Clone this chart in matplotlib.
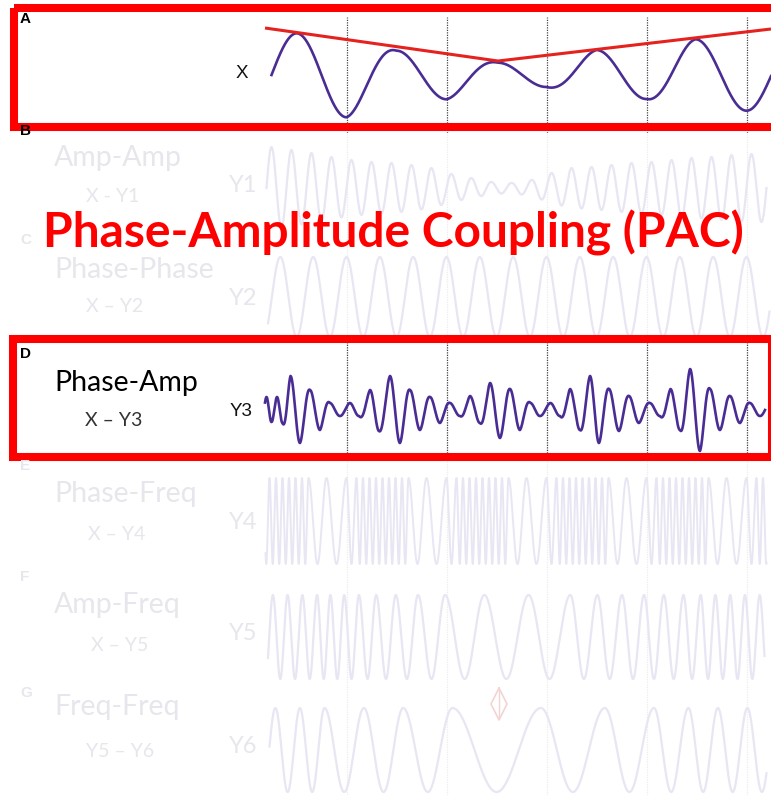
import numpy as np
import matplotlib.pyplot as plt
from matplotlib.patches import Rectangle

# ---- data (time in cycles of X; dotted lines mark the X troughs) ----
# X: slow signal, alternating extrema (signed amplitude)
x_ext_t = [0.0, 0.50, 1.0, 1.50, 2.0, 2.515, 3.0, 3.50, 4.0, 4.49, 5.0, 5.5]
x_ext_v = [-40, 41.7, -42.3, 24.3, -24.3, 12.3, -12, 25, -24, 35.7, -35.7, 36]
x_span = (0.25, 5.245)
# red envelope line over the X peaks
env_t = [0.185, 2.515, 5.245]
env_v = [47, 14, 46]

# Y1: amp-amp, carrier peaks and their heights
y1_pk_t = [0.05, 0.25, 0.45, 0.65, 0.85, 1.05, 1.25, 1.45, 1.65, 1.85, 2.05, 2.25, 2.45,
           2.65, 2.85, 3.05, 3.25, 3.45, 3.65, 3.85, 4.05, 4.25, 4.45, 4.65, 4.85, 5.05, 5.25]
y1_pk_a = [41, 41, 38, 35, 31, 28, 26, 25, 23, 20, 14, 10, 6,
           5, 8, 15, 20, 21, 23, 25, 26, 28, 30, 31, 33, 34, 34]
y1_span = (0.2, 5.2)

# Y2: phase-phase, constant frequency (3 cycles per X cycle)
y2_pk_t = [0.0, 0.338, 0.667, 1.0, 1.333, 1.667, 2.0, 2.333, 2.667, 3.0, 3.333, 3.667,
           4.0, 4.333, 4.667, 5.0, 5.333]
y2_amp = 40
y2_span = (0.215, 5.23)

# Y3: phase-amp, alternating extrema
y3_ext_t = [0.15, 0.20, 0.25, 0.305, 0.36, 0.44, 0.535, 0.635, 0.735, 0.835, 0.935,
            1.035, 1.125, 1.235, 1.325, 1.435, 1.535, 1.635, 1.735, 1.835, 1.935,
            2.035, 2.135, 2.235, 2.335, 2.435, 2.535, 2.635, 2.735, 2.84, 2.935,
            3.04, 3.135, 3.235, 3.335, 3.435, 3.525, 3.625, 3.725, 3.825, 3.925,
            4.035, 4.135, 4.24, 4.335, 4.435, 4.535, 4.635, 4.735, 4.835, 4.935,
            5.035, 5.135, 5.235]
y3_ext_v = [-12, 13, -12, 13, -13, 34, -33, 20, -20, 7, -6,
            7, -6, 20, -21, 34, -33, 20, -20, 13, -13,
            7, -6, 14, -13, 27, -28, 21, -20, 7, -6,
            7, -6, 21, -20, 34, -33, 21, -21, 14, -13,
            7, -6, 21, -20, 41, -41, 21, -20, 14, -13,
            7, -6, 7]
y3_span = (0.185, 5.185)

# Y4: phase-freq, fast cycles with two slow cycles round each X trough
y4_pk_t = [0.0, 0.10, 0.165, 0.23, 0.295, 0.36, 0.425, 0.49, 0.555, 0.62, 0.80,
           1.0, 1.10, 1.165, 1.23, 1.295, 1.36, 1.425, 1.49, 1.555, 1.62, 1.80,
           2.0, 2.10, 2.165, 2.23, 2.295, 2.36, 2.425, 2.49, 2.555, 2.62, 2.80,
           3.0, 3.10, 3.165, 3.23, 3.295, 3.36, 3.425, 3.49, 3.555, 3.62, 3.80,
           4.0, 4.10, 4.165, 4.23, 4.295, 4.36, 4.425, 4.49, 4.555, 4.62, 4.80,
           5.0, 5.10, 5.165, 5.23, 5.295]
y4_amp = 43
y4_span = (0.19, 5.2)

# Y5: amp-freq, peak times
y5_pk_t = [0.117, 0.264, 0.411, 0.559, 0.706, 0.839, 0.977, 1.124, 1.297, 1.493, 1.715,
           1.985, 2.378, 2.821, 3.239, 3.509, 3.755, 3.976, 4.173, 4.370, 4.542,
           4.689, 4.837, 4.984, 5.132, 5.28]
y5_amp = 42
y5_span = (0.215, 5.18)

# Y6: freq-freq, peak times
y6_pk_t = [0.04, 0.289, 0.534, 0.780, 1.174, 1.567, 2.059, 2.944, 3.583, 4.075,
           4.419, 4.714, 5.009, 5.30]
y6_amp = 42
y6_span = (0.23, 5.2)

dotted_t = [1, 2, 3, 4, 5]

# ---- styles ----
W, H = 771, 795
PURPLE = '#4a2d94'
FADE_WAVE = '#e8e6f3'
FADE_TEXT = '#e6e6ec'
FADE_DOT = '#ececec'
RED = '#ff0000'
T0 = -2.465          # time at the left figure edge
T1 = 5.245           # time at the right figure edge

fig = plt.figure(figsize=(W / 100, H / 100), dpi=100)


def band_axes(top, bottom):
    # axes over the pixel band [top, bottom], y in pixel-sized units round the midline
    ax = fig.add_axes([0, (H - bottom) / H, 1, (bottom - top) / H])
    ax.set_xlim(T0, T1)
    mid = (top + bottom) / 2
    ax.set_ylim(-(bottom - mid), (mid - top))
    ax.axis('off')
    ax.patch.set_alpha(0)
    return ax


def draw_wave(ax, tk, vk, step, span, **kw):
    t = np.linspace(span[0], span[1], 4000)
    k = np.arange(len(tk))
    ph = np.interp(t, tk, k * step)
    env = np.interp(t, tk, np.abs(vk))
    sgn = np.sign(vk[0])
    ax.plot(t, sgn * env * np.cos(ph), **kw)


# faded dotted lines below panel A
bg = band_axes(131, 795)
for t in dotted_t:
    bg.axvline(t, color=FADE_DOT, lw=0.9, ls=(0, (1, 1)))

# panel A
axA = band_axes(17, 133)
for t in dotted_t:
    axA.axvline(t, color='#444444', lw=0.9, ls=(0, (1, 1)))
axA.set_ylim(-(133 - 75), 75 - 17)
draw_wave(axA, x_ext_t, x_ext_v, np.pi, x_span, color=PURPLE, lw=1.9)
axA.plot(env_t, env_v, color='#e5221e', lw=2.2, solid_capstyle='butt')

# faded panels
axB = band_axes(138, 238)
draw_wave(axB, y1_pk_t, np.array(y1_pk_a), 2 * np.pi, y1_span, color=FADE_WAVE, lw=1.6)
axC = band_axes(247, 347)
draw_wave(axC, y2_pk_t, np.full(len(y2_pk_t), y2_amp), 2 * np.pi, y2_span, color=FADE_WAVE, lw=1.6)
axE = band_axes(471, 571)
draw_wave(axE, y4_pk_t, np.full(len(y4_pk_t), y4_amp), 2 * np.pi, y4_span, color=FADE_WAVE, lw=1.4)
axF = band_axes(587, 687)
draw_wave(axF, y5_pk_t, np.full(len(y5_pk_t), y5_amp), 2 * np.pi, y5_span, color=FADE_WAVE, lw=1.6)
axG = band_axes(700, 800)
draw_wave(axG, y6_pk_t, np.full(len(y6_pk_t), y6_amp), 2 * np.pi, y6_span, color=FADE_WAVE, lw=1.6)

# panel D
axD = band_axes(342, 453)
for t in dotted_t:
    axD.axvline(t, color='#444444', lw=0.9, ls=(0, (1, 1)))
axD.set_ylim(-(453 - 410), 410 - 342)
draw_wave(axD, y3_ext_t, y3_ext_v, np.pi, y3_span, color=PURPLE, lw=1.9)

# ---- overlay: labels, frames, title (pixel layout) ----
ov = fig.add_axes([0, 0, 1, 1])
ov.set_xlim(0, W)
ov.set_ylim(H, 0)
ov.axis('off')
ov.patch.set_alpha(0)

ARIAL = 'Liberation Sans'
CAL = 'Lato'

# panel letters
ov.text(20, 23, 'A', family=ARIAL, weight='bold', fontsize=11, color='black')
ov.text(20, 135, 'B', family=ARIAL, weight='bold', fontsize=11, color='black')
ov.text(20, 244, 'C', family=ARIAL, weight='bold', fontsize=11, color=FADE_TEXT)
ov.text(20, 358, 'D', family=ARIAL, weight='bold', fontsize=11, color='black')
ov.text(20, 470, 'E', family=ARIAL, weight='bold', fontsize=11, color=FADE_TEXT)
ov.text(20, 581, 'F', family=ARIAL, weight='bold', fontsize=11, color=FADE_TEXT)
ov.text(20, 697, 'G', family=ARIAL, weight='bold', fontsize=11, color=FADE_TEXT)

# signal names
ov.text(241.5, 78, 'X', family=ARIAL, fontsize=13.5, ha='center', color='#111111')
ov.text(241.5, 416, 'Y3', family=ARIAL, fontsize=13.5, ha='center', color='#111111')
for lab, base in [('Y1', 192), ('Y2', 305), ('Y4', 529), ('Y5', 640), ('Y6', 753)]:
    ov.text(243, base, lab, family=CAL, fontsize=17, ha='center', color=FADE_TEXT)

# coupling names
ov.text(54, 391, 'Phase-Amp', family=CAL, fontsize=20.5, color='black')
ov.text(85, 426, 'X – Y3', family=CAL, fontsize=14, color='#333333')
for lab, base in [('Amp-Amp', 166), ('Phase-Phase', 278), ('Phase-Freq', 502),
                  ('Amp-Freq', 613), ('Freq-Freq', 715)]:
    ov.text(54, base, lab, family=CAL, fontsize=20.5, color=FADE_TEXT)
for lab, x, base in [('X - Y1', 86, 202), ('X – Y2', 86, 312), ('X – Y4', 88, 540),
                     ('X – Y5', 91, 651), ('Y5 – Y6', 86, 757)]:
    ov.text(x, base, lab, family=CAL, fontsize=14, color=FADE_TEXT)

# faded double arrow between Y5 and Y6
ov.plot([499, 507, 499, 491, 499], [688, 704, 720, 704, 688], color='#f3d3d3', lw=1.2)
ov.plot([499, 499], [690, 718], color='#f3d3d3', lw=1.0)

# red frames round panels A and D
ov.add_patch(Rectangle((14, 7.5), 780, 119.5, fill=False, ec=RED, lw=5.8))
ov.add_patch(Rectangle((12.5, 339), 759, 117.5, fill=False, ec=RED, lw=5.8))

# title
ov.text(393, 248, 'Phase-Amplitude Coupling (PAC)', family=CAL, weight='bold',
        fontsize=34.5, color=RED, ha='center')

fig.savefig('out.png', dpi=100)
